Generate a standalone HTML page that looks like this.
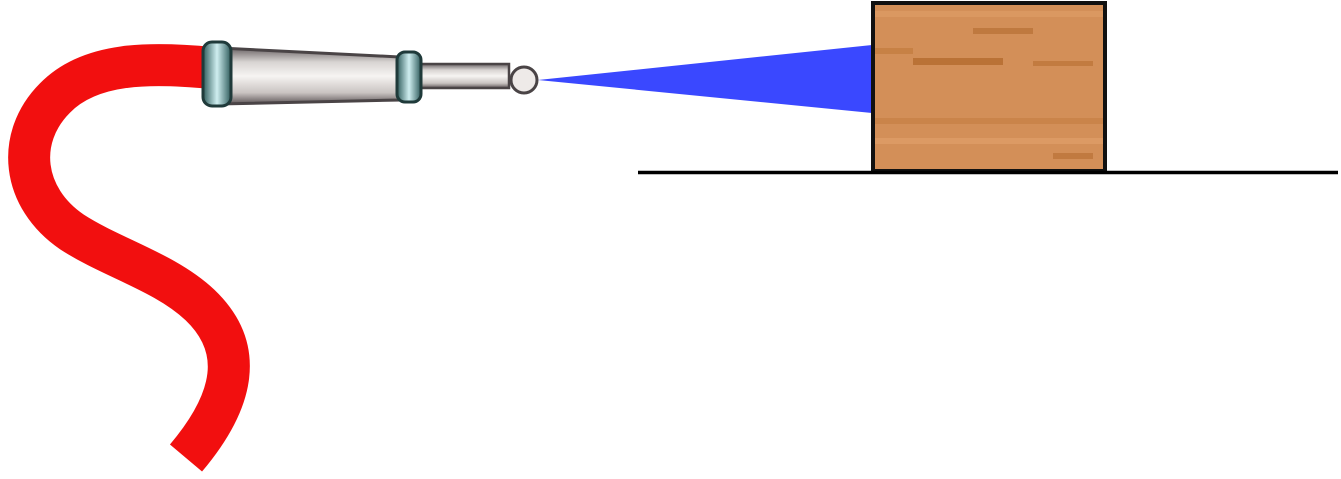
<!DOCTYPE html>
<html><head><meta charset="utf-8"><style>
html,body{margin:0;padding:0;background:#fff;width:1341px;height:479px;overflow:hidden}
svg{display:block}
</style></head><body>
<svg width="1341" height="479" viewBox="0 0 1341 479">
<defs>
<linearGradient id="metal" x1="0" y1="0" x2="0" y2="1">
<stop offset="0" stop-color="#6b6466"/><stop offset="0.25" stop-color="#d8d4d2"/><stop offset="0.5" stop-color="#f6f4f2"/><stop offset="0.8" stop-color="#c9c3c1"/><stop offset="1" stop-color="#5e5658"/>
</linearGradient>
<linearGradient id="ring" x1="0" y1="0" x2="1" y2="0">
<stop offset="0" stop-color="#2f5c5c"/><stop offset="0.5" stop-color="#cfeef0"/><stop offset="1" stop-color="#2f5c5c"/>
</linearGradient>
<pattern id="wood" width="232" height="170" patternUnits="userSpaceOnUse" x="873" y="3">
<rect width="232" height="170" fill="#d38f58"/>
<rect y="8" width="232" height="6" fill="#dd9c66" opacity="0.7"/>
<rect x="100" y="25" width="60" height="6" fill="#b36a2e" opacity="0.6"/>
<rect x="40" y="55" width="90" height="7" fill="#b06628" opacity="0.7"/>
<rect x="160" y="58" width="60" height="5" fill="#b86e30" opacity="0.6"/>
<rect y="45" width="40" height="6" fill="#c07838" opacity="0.6"/>
<rect y="115" width="232" height="6" fill="#c27a3c" opacity="0.5"/>
<rect y="135" width="232" height="6" fill="#e2a26c" opacity="0.6"/>
<rect x="180" y="150" width="40" height="6" fill="#b56c30" opacity="0.6"/>
</pattern>
</defs>
<path d="M212,68 C150,62 90,62 55,98 C15,138 22,198 72,232 C112,258 165,272 200,305 C245,348 235,400 186,458" fill="none" stroke="#f20f0f" stroke-width="42" stroke-linecap="butt"/>
<polygon points="538,80 872,45 872,113" fill="#3a48ff"/>
<path d="M220,48 L400,57 L400,100 L220,104 Z" fill="url(#metal)" stroke="#4a4446" stroke-width="3"/>
<rect x="203" y="42" width="28" height="64" rx="9" fill="url(#ring)" stroke="#1f3a3a" stroke-width="3"/>
<rect x="416" y="64" width="93" height="24" fill="url(#metal)" stroke="#4a4446" stroke-width="2.5"/>
<rect x="397" y="52" width="24" height="50" rx="8" fill="url(#ring)" stroke="#1f3a3a" stroke-width="3"/>
<circle cx="524" cy="80" r="13" fill="#eeeae8" stroke="#4a4446" stroke-width="3"/>
<rect x="873" y="3" width="232" height="168" fill="url(#wood)" stroke="#111" stroke-width="4"/>
<line x1="638" y1="172.5" x2="1338" y2="172.5" stroke="#000" stroke-width="3.5"/>
</svg>
</body></html>
